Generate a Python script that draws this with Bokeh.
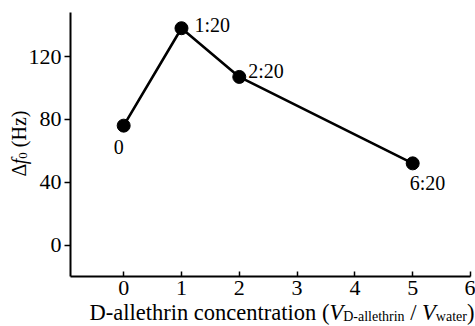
import math
from bokeh.plotting import figure
from bokeh.models import Range1d, Label, FixedTicker
from bokeh.embed import file_html
from bokeh.resources import INLINE

# ---- data ----
conc = [0, 1, 2, 5]
delta_f = [76, 138, 107, 52]
ratio_labels = ["0", "1:20", "2:20", "6:20"]
x_ticks = [0, 1, 2, 3, 4, 5, 6]
y_ticks = [0, 40, 80, 120]
x_bounds = (-0.92, 6)
y_bounds = (-20, 148)

FONT = "Liberation Serif"

# Times / Liberation Serif advance widths (per 1000 em)
REG = {' ': 250, '(': 333, ')': 333, '/': 278, '-': 333, ':': 278, 'D': 722, 'H': 722,
       'V': 722, 'a': 444, 'c': 444, 'e': 444, 'h': 500, 'i': 278, 'l': 278, 'n': 500,
       'o': 500, 'r': 333, 's': 389, 't': 278, 'w': 722, 'z': 444, 'Δ': 612}
for d in "0123456789":
    REG[d] = 500
ITA = {'V': 611, 'f': 278}


def width(s, size, italic=False):
    tab = ITA if italic else REG
    return sum(tab.get(ch, REG.get(ch, 500)) for ch in s) * size / 1000.0


# plot area = whole canvas; axes drawn at fixed locations with bounds
W, H = 475, 326
L, R, T, B = 70, 470, 12, 276
xs = (x_bounds[1] - x_bounds[0]) / (R - L)
ys = (y_bounds[1] - y_bounds[0]) / (B - T)
xr = Range1d(x_bounds[0] - L * xs, x_bounds[1] + (W - R) * xs)
yr = Range1d(y_bounds[0] - (H - B) * ys, y_bounds[1] + T * ys)

p = figure(width=W, height=H, output_backend="svg", toolbar_location=None,
           x_range=xr, y_range=yr, min_border=0)
p.outline_line_color = None
p.xgrid.visible = False
p.ygrid.visible = False
p.background_fill_color = "white"
p.border_fill_color = "white"

for ax in (p.xaxis[0], p.yaxis[0]):
    ax.axis_line_width = 2
    ax.axis_line_color = "black"
    ax.major_tick_line_width = 1.5
    ax.major_tick_line_color = "black"
    ax.minor_tick_line_color = None
    ax.major_label_text_font = FONT
    ax.major_label_text_font_size = "22px"
    ax.major_label_text_color = "black"
    ax.axis_label = None

p.xaxis[0].ticker = FixedTicker(ticks=x_ticks)
p.xaxis[0].bounds = x_bounds
p.xaxis[0].fixed_location = y_bounds[0]
p.xaxis[0].major_tick_in = 5
p.xaxis[0].major_tick_out = 0
p.xaxis[0].major_label_standoff = 4

p.yaxis[0].ticker = FixedTicker(ticks=y_ticks)
p.yaxis[0].bounds = y_bounds
p.yaxis[0].fixed_location = x_bounds[0]
p.yaxis[0].major_tick_in = 0
p.yaxis[0].major_tick_out = 6
p.yaxis[0].major_label_standoff = 3

p.line(conc, delta_f, line_color="black", line_width=2.6)
p.scatter(conc, delta_f, size=13, fill_color="black", line_color="black")

# point annotations (offsets in pixels)
offsets = [(-5, -21, "center"), (13, 3, "left"), (9, 6, "left"), (-3, -20, "left")]
for xv, yv, txt, (dx, dy, al) in zip(conc, delta_f, ratio_labels, offsets):
    p.add_layout(Label(x=xv, y=yv, text=txt, x_offset=dx, y_offset=dy,
                       text_align=al, text_baseline="middle", text_font=FONT,
                       text_font_size="20px", text_color="black"))


def add_piece(x, y, txt, sz, it, angle=0.0, baseline="alphabetic"):
    lead = len(txt) - len(txt.lstrip(" "))
    shift = width(" " * lead, sz)
    if angle:
        y = y + shift
    else:
        x = x + shift
    p.add_layout(Label(x=x, y=y, x_units="screen", y_units="screen",
                       text=txt.strip(" "), text_font=FONT, text_font_size=f"{sz}px",
                       text_font_style="italic" if it else "normal", angle=angle,
                       text_align="left", text_baseline=baseline, text_color="black"))
    return width(txt, sz, it)


# x-axis label composed from pieces (screen units from bottom-left)
XS = 22.5
SUB = 14
pieces = [("D-allethrin concentration (", XS, False, 0),
          ("V", XS, True, 0),
          ("D-allethrin", SUB, False, -4),
          (" / ", XS, False, 0),
          ("V", XS, True, 0),
          ("water", SUB, False, -4),
          (")", XS, False, 0)]
cx = 89
base_y = 14
for txt, sz, it, dy in pieces:
    cx += add_piece(cx, base_y + dy, txt, sz, it)

# y-axis label composed from pieces, rotated
YS = 20
YSUB = 13
ypieces = [("Δ", YS, False, 0),
           ("f", YS, True, 0),
           ("0", YSUB, False, 4),
           (" (Hz)", YS, False, 0)]
cy = H - 176
lx = 18
for txt, sz, it, dx in ypieces:
    cy += add_piece(lx + dx, cy, txt, sz, it, angle=math.pi / 2, baseline="middle")

open("out.html", "w").write(file_html(p, INLINE))
